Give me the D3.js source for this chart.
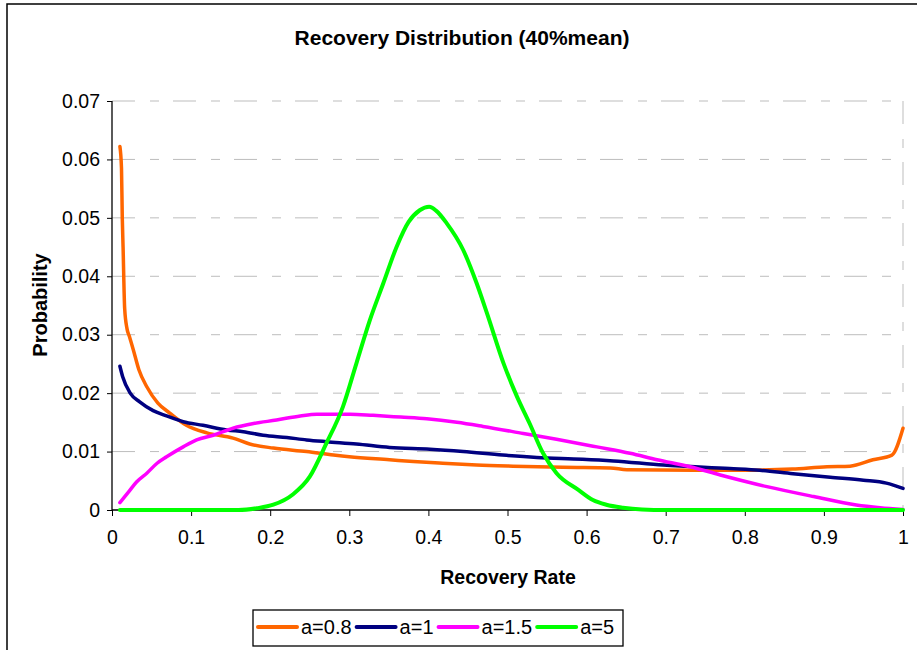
<!DOCTYPE html>
<html>
<head>
<meta charset="utf-8">
<script src="https://cdn.jsdelivr.net/npm/d3@7"></script>
<style>
  body { margin: 0; background: #fff; }
  text { font-family: "Liberation Sans", Arial, sans-serif; }
</style>
</head>
<body>
<div id="chart"></div>
<script>
// series names and colours
var seriesNames = ["a=0.8", "a=1", "a=1.5", "a=5"];
var seriesColors = ["#FF6600", "#000080", "#FF00FF", "#00FF00"];

// recovery rate (x) and probability (y)
var xA08 = [0.010, 0.012, 0.013, 0.014, 0.016, 0.019, 0.022, 0.027, 0.034, 0.044, 0.058, 0.073, 0.094, 0.12, 0.153, 0.174, 0.204, 0.246, 0.28, 0.30, 0.351, 0.381, 0.418, 0.461, 0.507, 0.57, 0.63, 0.651, 0.76, 0.80, 0.86, 0.904, 0.933, 0.962, 0.986, 1.0];
var yA08 = [0.0622, 0.0585, 0.050, 0.045, 0.0345, 0.0310, 0.0297, 0.0274, 0.0240, 0.0211, 0.0183, 0.0166, 0.0145, 0.0132, 0.0123, 0.0113, 0.0106, 0.0100, 0.0094, 0.0091, 0.0086, 0.0083, 0.0080, 0.0077, 0.0075, 0.0073, 0.0072, 0.0069, 0.0068, 0.0068, 0.0070, 0.0074, 0.0075, 0.0086, 0.0094, 0.0140];

var xA1 = [0.010, 0.0135, 0.023, 0.035, 0.052, 0.069, 0.090, 0.115, 0.145, 0.166, 0.191, 0.221, 0.246, 0.271, 0.309, 0.351, 0.402, 0.444, 0.494, 0.537, 0.595, 0.634, 0.697, 0.781, 0.819, 0.861, 0.908, 0.950, 0.979, 1.0];
var yA1 = [0.0246, 0.0228, 0.0200, 0.0185, 0.0170, 0.0161, 0.0151, 0.0145, 0.0137, 0.0134, 0.0128, 0.0124, 0.0120, 0.0117, 0.0113, 0.0107, 0.0104, 0.0100, 0.0094, 0.0090, 0.0087, 0.0084, 0.0077, 0.0071, 0.0068, 0.0062, 0.0056, 0.0051, 0.0046, 0.0037];

var xA15 = [0.010, 0.021, 0.031, 0.044, 0.057, 0.069, 0.090, 0.107, 0.128, 0.153, 0.179, 0.208, 0.238, 0.259, 0.301, 0.330, 0.365, 0.398, 0.436, 0.469, 0.520, 0.562, 0.613, 0.655, 0.689, 0.731, 0.769, 0.828, 0.887, 0.941, 0.971, 1.0];
var yA15 = [0.00125, 0.0031, 0.0048, 0.0063, 0.0080, 0.0091, 0.0108, 0.0120, 0.0128, 0.0140, 0.0148, 0.0154, 0.0161, 0.0164, 0.0164, 0.0162, 0.0159, 0.0156, 0.0150, 0.0143, 0.0131, 0.0121, 0.0108, 0.0097, 0.0086, 0.0074, 0.0060, 0.0040, 0.0023, 0.00086, 0.0004, 0.0001];

var xA5 = [0.010, 0.16, 0.183, 0.204, 0.229, 0.250, 0.271, 0.292, 0.309, 0.326, 0.343, 0.360, 0.375, 0.389, 0.401, 0.410, 0.423, 0.444, 0.461, 0.474, 0.495, 0.512, 0.528, 0.545, 0.562, 0.590, 0.608, 0.625, 0.646, 0.67, 0.70, 1.0];
var yA5 = [0, 0, 0.0003, 0.0009, 0.0027, 0.0057, 0.0114, 0.0177, 0.0251, 0.0325, 0.0388, 0.0451, 0.0493, 0.0513, 0.0519, 0.0512, 0.0491, 0.0445, 0.0388, 0.0337, 0.0251, 0.0194, 0.0148, 0.0097, 0.0063, 0.0034, 0.0017, 0.0009, 0.0004, 0.0001, 0, 0];

// tick labels
var xTicks = [0, 0.1, 0.2, 0.3, 0.4, 0.5, 0.6, 0.7, 0.8, 0.9, 1];
var yTicks = [0, 0.01, 0.02, 0.03, 0.04, 0.05, 0.06, 0.07];

var seriesX = [xA08, xA1, xA15, xA5];
var seriesY = [yA08, yA1, yA15, yA5];

var W = 917, H = 650;
var margin = {top: 101, left: 112, right: 14, bottom: 140};
var width = W - margin.left - margin.right,
    height = H - margin.top - margin.bottom;

var svg = d3.select("#chart")
  .append("svg")
    .attr("width", W)
    .attr("height", H);

// chart border (runs off the right and bottom edges)
svg.append("rect")
  .attr("x", 7).attr("y", 4)
  .attr("width", 1000).attr("height", 1000)
  .attr("fill", "none")
  .attr("stroke", "#000")
  .attr("stroke-width", 1.5);

var g = svg.append("g")
  .attr("transform", "translate(" + margin.left + "," + margin.top + ")");

var x = d3.scaleLinear().domain([0, 1]).range([0, width]);
var y = d3.scaleLinear().domain([0, 0.07]).range([height, 0]);

// dashed grid lines
g.selectAll(".grid")
  .data(yTicks.slice(1))
  .enter()
  .append("line")
    .attr("x1", 0).attr("x2", width)
    .attr("y1", function(d) { return y(d); })
    .attr("y2", function(d) { return y(d); })
    .attr("stroke", "#bdbdbd")
    .attr("stroke-width", 1)
    .attr("stroke-dasharray", "23,15,9,14");

// plot area right edge
g.append("line")
  .attr("x1", width).attr("x2", width)
  .attr("y1", 0).attr("y2", height)
  .attr("stroke", "#bdbdbd")
  .attr("stroke-dasharray", "23,15,9,14");

// axes
var xAxis = g.append("g")
  .attr("transform", "translate(0," + height + ")")
  .call(d3.axisBottom(x).tickValues(xTicks).tickSize(6).tickPadding(14)
    .tickFormat(function(d) { return d3.format("")(+d.toFixed(1)); }));

var yAxis = g.append("g")
  .call(d3.axisLeft(y).tickValues(yTicks).tickSize(5).tickPadding(7)
    .tickFormat(function(d) { return d === 0 ? "0" : d.toFixed(2); }));

[xAxis, yAxis].forEach(function(a) {
  a.select(".domain").attr("stroke", "#000").attr("stroke-width", 1.3);
  a.selectAll(".tick line").attr("stroke", "#000");
  a.selectAll(".tick text")
    .attr("fill", "#000")
    .style("font-family", "'Liberation Sans', Arial, sans-serif")
    .style("font-size", "19.5px");
});
yAxis.select(".domain").attr("d", "M0,0V" + height);
xAxis.select(".domain").attr("d", "M0,0H" + width);

// lines
var line = d3.line()
  .x(function(d) { return x(d[0]); })
  .y(function(d) { return y(d[1]); })
  .curve(d3.curveMonotoneX);

seriesNames.forEach(function(name, i) {
  var pts = seriesX[i].map(function(v, j) { return [v, seriesY[i][j]]; });
  g.append("path")
    .datum(pts)
    .attr("fill", "none")
    .attr("stroke", seriesColors[i])
    .attr("stroke-width", i === 3 ? 4 : 3.5)
    .attr("stroke-linejoin", "round")
    .attr("stroke-linecap", "round")
    .attr("d", line);
});

// titles
svg.append("text")
  .attr("x", 462).attr("y", 45)
  .attr("text-anchor", "middle")
  .style("font-weight", "bold")
  .style("font-size", "21px")
  .text("Recovery Distribution (40%mean)");

svg.append("text")
  .attr("x", 508).attr("y", 584)
  .attr("text-anchor", "middle")
  .style("font-weight", "bold")
  .style("font-size", "19.5px")
  .text("Recovery Rate");

svg.append("text")
  .attr("transform", "translate(47,305) rotate(-90)")
  .attr("text-anchor", "middle")
  .style("font-weight", "bold")
  .style("font-size", "20px")
  .text("Probability");

// legend
var legend = svg.append("g");
legend.append("rect")
  .attr("x", 253).attr("y", 610)
  .attr("width", 370).attr("height", 36)
  .attr("fill", "#fff")
  .attr("stroke", "#000")
  .attr("stroke-width", 1.3);

var lx = 258;
seriesNames.forEach(function(name, i) {
  legend.append("line")
    .attr("x1", lx).attr("x2", lx + 39)
    .attr("y1", 627).attr("y2", 627)
    .attr("stroke", seriesColors[i])
    .attr("stroke-width", 4)
    .attr("stroke-linecap", "round");
  var t = legend.append("text")
    .attr("x", lx + 43).attr("y", 634)
    .style("font-size", "20px")
    .text(name);
  lx += 43 + t.node().getComputedTextLength() + 5;
});
</script>
</body>
</html>
